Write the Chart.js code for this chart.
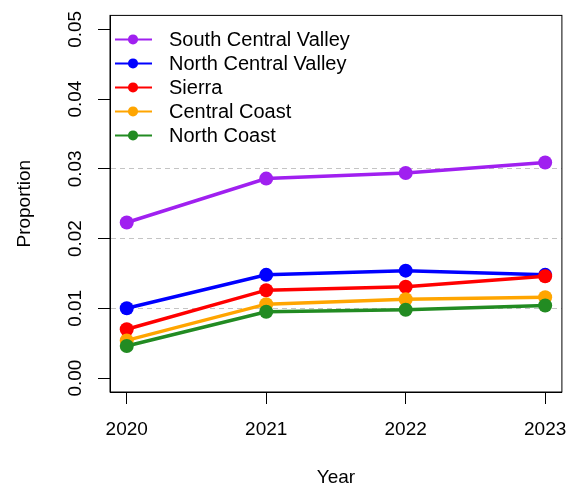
<!DOCTYPE html>
<html>
<head>
<meta charset="utf-8">
<script src="https://cdn.jsdelivr.net/npm/chart.js@4"></script>
<style>
  body { margin: 0; background: #fff; }
  canvas { display: block; }
</style>
</head>
<body>
<canvas id="grafico" width="581" height="487"></canvas>
<script>
const anos = [2020, 2021, 2022, 2023];
const yTicks = [0, 0.01, 0.02, 0.03, 0.04, 0.05];
const linhasGrade = [0.01, 0.02, 0.03];

const regioes = ['South Central Valley', 'North Central Valley', 'Sierra', 'Central Coast', 'North Coast'];
const cores = ['#A020F0', '#0000FF', '#FF0000', '#FFA500', '#228B22'];

const southCentralValley = [0.0223, 0.0286, 0.0294, 0.0309];
const northCentralValley = [0.0100, 0.0148, 0.0154, 0.0148];
const sierra = [0.0070, 0.0126, 0.0131, 0.0146];
const centralCoast = [0.0054, 0.0106, 0.0113, 0.0116];
const northCoast = [0.0046, 0.0095, 0.0098, 0.0104];

const series = [southCentralValley, northCentralValley, sierra, centralCoast, northCoast];

Chart.defaults.font.family = "'Liberation Sans', Arial, sans-serif";
Chart.defaults.font.size = 19;
Chart.defaults.color = '#000';

// caixa em volta da area do grafico (como box() do R)
const moldura = {
  id: 'moldura',
  afterDraw(chart) {
    const { ctx, chartArea: a } = chart;
    ctx.save();
    ctx.strokeStyle = '#000';
    ctx.lineWidth = 1;
    ctx.strokeRect(a.left, a.top, a.right - a.left, a.bottom - a.top);
    ctx.restore();
  }
};

// legenda dentro do grafico, linha + ponto
const legenda = {
  id: 'legenda',
  afterDraw(chart) {
    const { ctx, chartArea: a } = chart;
    ctx.save();
    ctx.font = "20px 'Liberation Sans', Arial, sans-serif";
    ctx.textBaseline = 'middle';
    chart.data.datasets.forEach((ds, i) => {
      const y = a.top + 24 + i * 24;
      ctx.strokeStyle = ds.borderColor;
      ctx.lineWidth = 2;
      ctx.beginPath();
      ctx.moveTo(a.left + 5, y);
      ctx.lineTo(a.left + 42, y);
      ctx.stroke();
      ctx.fillStyle = ds.borderColor;
      ctx.beginPath();
      ctx.arc(a.left + 23, y, 5, 0, Math.PI * 2);
      ctx.fill();
      ctx.fillStyle = '#000';
      ctx.fillText(ds.label, a.left + 59, y + 1);
    });
    ctx.restore();
  }
};

const datasets = regioes.map((nome, i) => ({
  label: nome,
  data: anos.map((ano, j) => ({ x: ano, y: series[i][j] })),
  borderColor: cores[i],
  backgroundColor: cores[i],
  pointBackgroundColor: cores[i],
  borderWidth: 3.5,
  pointRadius: 7,
  pointBorderWidth: 0,
  pointHoverRadius: 7,
  order: regioes.length - i
}));

new Chart(document.getElementById('grafico').getContext('2d'), {
  type: 'line',
  data: { datasets: datasets },
  options: {
    responsive: false,
    maintainAspectRatio: false,
    devicePixelRatio: 1,
    animation: false,
    layout: { padding: { top: 13, right: 19, left: 0, bottom: 0 } },
    plugins: { legend: { display: false }, tooltip: { enabled: false } },
    scales: {
      x: {
        type: 'linear',
        min: 2019.88,
        max: 2023.12,
        afterBuildTicks: (scale) => { scale.ticks = anos.map(v => ({ value: v })); },
        afterFit: (scale) => { scale.height = 95; },
        ticks: { callback: v => String(v), padding: 14, maxRotation: 0 },
        grid: { drawOnChartArea: false, tickLength: 12, tickColor: '#000', color: '#000' },
        border: { display: true, color: '#000', width: 1 },
        title: { display: true, text: 'Year', font: { size: 19, lineHeight: 1 }, padding: { top: 0, bottom: 0 } }
      },
      y: {
        type: 'linear',
        min: -0.002,
        max: 0.052,
        afterBuildTicks: (scale) => { scale.ticks = yTicks.map(v => ({ value: v })); },
        afterFit: (scale) => { scale.width = 110; },
        ticks: { callback: v => v.toFixed(2), minRotation: 90, maxRotation: 90, crossAlign: 'center', padding: 4 },
        grid: {
          tickLength: 12,
          tickColor: '#000',
          tickBorderDash: [],
          lineWidth: 1,
          color: (c) => {
            const v = c.tick ? c.tick.value : null;
            return linhasGrade.some(g => Math.abs(g - v) < 1e-9) ? '#c4c4c4' : 'rgba(0,0,0,0)';
          }
        },
        border: { display: true, color: '#000', width: 1, dash: [5, 4] },
        title: { display: true, text: 'Proportion', font: { size: 19, lineHeight: 1 }, padding: { top: 15, bottom: 0 } }
      }
    }
  },
  plugins: [moldura, legenda]
});
</script>
</body>
</html>
